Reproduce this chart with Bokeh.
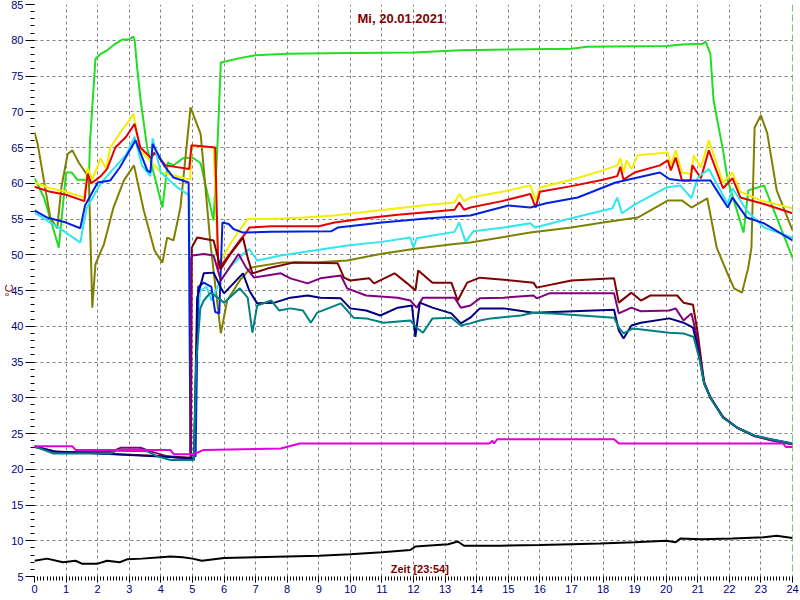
from bokeh.plotting import figure
from bokeh.models import Range1d, SingleIntervalTicker, Label, Span
from bokeh.embed import file_html
from bokeh.resources import INLINE

# ---- data (hour of day, temperature in °C) ----
green = [(0.0, 60.7), (0.3, 58.0), (0.77, 51.0), (1.0, 61.5), (1.18, 61.5), (1.35, 60.5), (1.72, 60.5),
         (1.76, 66.0), (1.93, 77.4), (2.1, 78.1), (2.3, 78.6), (2.56, 79.5), (2.78, 80.1), (2.98, 80.1),
         (3.13, 80.5), (3.17, 80.0), (3.25, 76.2), (3.36, 71.6), (3.58, 64.6), (3.8, 61.0), (4.05, 56.6),
         (4.22, 62.9), (4.4, 62.5), (4.7, 63.5), (5.0, 63.6), (5.26, 62.8), (5.67, 54.8), (5.8, 66.0),
         (5.9, 76.9), (6.5, 77.5), (7.0, 77.9), (8.0, 78.1), (10.0, 78.2), (12.0, 78.3), (13.5, 78.6),
         (15.0, 78.7), (17.0, 78.8), (17.5, 79.1), (20.0, 79.2), (20.5, 79.4), (21.15, 79.5), (21.25, 79.8),
         (21.4, 78.1), (21.5, 71.6), (21.8, 64.6), (21.95, 60.4), (22.45, 53.1), (22.6, 59.0), (23.1, 59.7),
         (23.5, 55.2), (24.0, 49.6)]

olive = [(0.0, 67.1), (0.1, 65.5), (0.5, 55.2), (0.72, 53.7), (0.85, 59.4), (1.05, 64.1), (1.2, 64.6),
         (1.4, 62.9), (1.72, 60.8), (1.83, 42.6), (1.93, 48.7), (2.2, 51.5), (2.5, 56.6), (2.83, 60.4),
         (3.15, 62.5), (3.46, 56.2), (3.8, 50.6), (4.05, 48.9), (4.2, 52.4), (4.4, 52.0), (4.62, 56.6),
         (4.94, 70.6), (5.26, 66.9), (5.57, 51.6), (5.9, 39.0), (6.1, 43.6), (6.5, 46.4), (6.85, 48.2),
         (7.8, 48.9), (8.85, 48.9), (9.9, 49.2), (10.95, 50.1), (12.0, 50.8), (13.3, 51.5), (13.8, 51.7),
         (15.7, 53.1), (17.0, 53.8), (18.0, 54.5), (19.1, 55.2), (20.06, 57.6), (20.5, 57.6), (20.8, 56.6),
         (21.3, 57.9), (21.6, 51.0), (21.9, 47.8), (22.15, 45.3), (22.4, 44.7), (22.6, 48.2), (22.7, 51.0),
         (22.8, 67.8), (23.0, 69.5), (23.2, 67.0), (23.5, 59.0), (24.0, 53.4)]

yellow = [(0.0, 60.1), (0.5, 59.3), (1.0, 58.8), (1.58, 58.0), (1.68, 62.2), (1.83, 60.5), (2.1, 63.5),
          (2.27, 62.0), (2.4, 65.0), (2.7, 67.0), (3.0, 68.8), (3.13, 69.7), (3.35, 64.5), (3.7, 63.0),
          (4.0, 61.5), (4.5, 61.0), (4.93, 60.5), (4.97, 65.2), (5.67, 65.0), (5.82, 48.5), (6.2, 51.5),
          (6.5, 53.5), (6.75, 55.0), (7.5, 55.0), (8.5, 55.2), (9.5, 55.5), (10.5, 56.0), (11.5, 56.5),
          (12.5, 57.0), (13.3, 57.3), (13.45, 58.5), (13.6, 57.5), (13.8, 58.0), (14.8, 58.8), (15.7, 59.7),
          (15.87, 57.6), (16.0, 59.4), (17.0, 60.5), (18.0, 61.8), (18.45, 62.5), (18.55, 63.5), (18.65, 61.5),
          (18.75, 63.2), (18.9, 62.0), (19.1, 63.9), (20.05, 64.3), (20.15, 62.5), (20.3, 64.6), (20.5, 61.5),
          (20.78, 61.3), (20.87, 63.9), (21.1, 62.2), (21.35, 66.0), (21.8, 60.1), (22.1, 61.5), (22.35, 58.8),
          (23.0, 57.6), (24.0, 56.5)]

red = [(0.0, 59.5), (0.5, 58.8), (1.0, 58.4), (1.58, 57.5), (1.68, 61.3), (1.8, 60.0), (2.1, 61.0),
       (2.3, 62.0), (2.56, 65.0), (2.9, 66.5), (3.17, 68.3), (3.35, 65.0), (3.7, 63.5), (3.8, 64.3),
       (4.15, 62.5), (4.9, 62.0), (4.97, 65.3), (5.72, 65.0), (5.82, 48.0), (6.2, 50.2), (6.5, 52.0),
       (6.7, 53.1), (6.8, 53.8), (7.5, 54.0), (9.0, 54.0), (9.5, 54.5), (10.5, 55.1), (11.5, 55.6),
       (12.6, 56.0), (13.3, 56.3), (13.45, 57.3), (13.6, 56.3), (13.8, 56.6), (14.8, 57.5), (15.7, 58.5),
       (15.87, 56.6), (16.0, 58.8), (17.0, 59.6), (18.0, 60.5), (18.45, 61.0), (18.55, 62.3), (18.65, 60.5),
       (19.0, 61.5), (19.8, 62.5), (20.05, 63.2), (20.15, 61.8), (20.3, 63.6), (20.5, 60.4), (20.77, 60.4),
       (20.83, 62.5), (21.1, 60.7), (21.35, 64.6), (21.8, 59.3), (22.1, 60.7), (22.35, 58.0), (23.1, 57.1),
       (24.0, 55.8)]

cyan = [(0.0, 55.9), (0.5, 54.5), (0.77, 53.8), (1.45, 51.7), (1.65, 56.5), (2.1, 60.0), (2.5, 62.0),
        (2.9, 64.0), (3.17, 66.5), (3.4, 62.5), (3.67, 61.0), (3.74, 66.3), (4.0, 61.5), (4.5, 59.5),
        (4.9, 58.3), (4.93, 22.3), (5.05, 22.0), (5.15, 40.0), (5.25, 45.0), (5.45, 45.5), (5.6, 43.6),
        (5.9, 46.5), (6.2, 48.3), (6.6, 50.1), (6.8, 50.8), (7.05, 49.2), (7.8, 49.9), (8.85, 50.6),
        (9.9, 51.3), (11.0, 51.8), (11.9, 52.4), (12.0, 51.0), (12.1, 52.3), (13.3, 53.2), (13.45, 54.5),
        (13.65, 51.8), (13.9, 53.3), (14.85, 53.8), (15.7, 54.4), (15.85, 53.8), (16.9, 55.0), (18.3, 56.5),
        (18.45, 58.0), (18.6, 55.8), (19.0, 57.0), (20.0, 59.4), (20.45, 59.7), (20.8, 57.9), (21.0, 60.8),
        (21.35, 62.0), (21.95, 57.1), (22.1, 59.3), (22.55, 56.2), (23.1, 53.8), (24.0, 52.4)]

blue = [(0.0, 56.2), (0.4, 55.2), (1.0, 54.5), (1.45, 53.7), (1.6, 56.9), (2.0, 60.1), (2.4, 60.4),
        (2.7, 62.2), (3.2, 66.0), (3.57, 61.8), (3.67, 61.5), (3.74, 65.5), (4.1, 62.5), (4.4, 60.8),
        (4.88, 60.1), (4.94, 22.0), (5.1, 21.8), (5.18, 45.5), (5.36, 46.1), (5.6, 45.5), (5.72, 42.0),
        (5.85, 41.8), (5.95, 54.5), (6.15, 54.3), (6.3, 53.6), (6.6, 53.1), (7.5, 53.2), (9.4, 53.3),
        (9.6, 53.8), (11.0, 54.5), (12.5, 55.1), (13.8, 55.5), (15.0, 56.9), (15.7, 56.6), (16.2, 57.2),
        (17.2, 58.0), (18.4, 60.1), (19.8, 61.5), (20.1, 60.6), (20.45, 60.4), (21.4, 60.4), (21.95, 56.6),
        (22.1, 58.0), (22.55, 55.2), (23.1, 54.4), (24.0, 52.0)]

maroon = [(0.0, 23.1), (0.6, 22.5), (4.3, 21.8), (4.95, 21.6), (4.98, 51.0), (5.15, 52.4), (5.67, 52.0),
          (5.9, 48.0), (6.2, 50.1), (6.6, 52.4), (6.75, 49.6), (6.9, 47.4), (7.4, 48.1), (8.2, 48.9),
          (9.6, 48.8), (9.8, 46.8), (10.0, 46.4), (10.6, 46.7), (10.75, 46.0), (11.4, 47.4), (11.8, 46.0),
          (12.06, 45.0), (12.15, 47.8), (12.6, 46.1), (13.2, 46.1), (13.4, 43.6), (13.7, 46.1), (14.1, 46.8),
          (15.1, 46.4), (15.8, 46.1), (15.9, 45.4), (17.0, 46.4), (18.35, 46.7), (18.5, 43.3), (18.9, 44.7),
          (19.2, 43.6), (19.5, 44.3), (20.35, 44.3), (20.55, 43.3), (20.85, 43.0), (21.0, 39.0), (21.2, 32.2),
          (21.4, 30.1), (21.8, 27.3), (22.25, 25.8), (22.8, 24.7), (23.3, 24.1), (24.0, 23.5)]

purple = [(0.0, 23.2), (0.72, 22.4), (2.4, 22.4), (2.72, 23.0), (3.36, 23.0), (3.67, 22.5), (4.3, 21.7),
          (4.94, 21.5), (4.96, 49.5), (5.0, 49.9), (5.36, 50.1), (5.67, 49.9), (5.9, 46.4), (6.46, 50.1),
          (6.7, 48.2), (6.95, 46.8), (7.8, 47.4), (8.1, 46.7), (8.65, 46.0), (9.05, 46.7), (9.7, 47.1),
          (9.9, 45.3), (10.5, 44.3), (11.5, 44.0), (11.9, 43.6), (12.1, 42.6), (12.3, 44.0), (13.3, 44.0),
          (13.5, 42.6), (13.8, 42.9), (14.1, 43.9), (14.85, 44.0), (15.8, 44.3), (15.9, 43.9), (16.3, 44.6),
          (18.35, 44.6), (18.5, 41.8), (18.9, 42.6), (19.2, 42.1), (20.1, 42.2), (20.3, 42.5), (20.55, 40.8),
          (20.8, 41.8), (20.95, 39.0), (21.2, 32.2), (21.4, 30.0), (21.8, 27.2), (22.25, 25.8), (22.8, 24.6),
          (23.3, 24.1), (24.0, 23.5)]

navy = [(0.0, 23.2), (0.6, 22.5), (4.3, 21.7), (5.05, 21.5), (5.15, 44.0), (5.36, 47.4), (5.67, 47.5),
        (5.9, 45.4), (6.0, 44.6), (6.3, 46.0), (6.6, 47.4), (6.8, 45.0), (7.05, 43.2), (7.6, 43.3),
        (8.1, 44.0), (8.65, 44.3), (9.05, 44.0), (9.7, 43.9), (10.0, 42.5), (10.5, 42.2), (10.95, 41.5),
        (11.5, 42.6), (11.95, 42.9), (12.06, 38.5), (12.2, 43.3), (12.6, 42.6), (13.2, 41.8), (13.5, 40.4),
        (13.8, 41.2), (14.1, 42.5), (14.85, 42.5), (15.8, 41.9), (18.35, 42.3), (18.5, 39.4), (18.65, 38.3),
        (18.9, 40.1), (19.2, 40.5), (20.1, 41.1), (20.55, 40.5), (20.85, 39.8), (21.0, 37.0), (21.2, 32.0),
        (21.4, 30.0), (21.8, 27.3), (22.25, 25.8), (22.8, 24.7), (23.3, 24.2), (24.0, 23.6)]

teal = [(0.0, 23.2), (0.6, 22.2), (2.4, 22.2), (2.6, 22.6), (3.57, 22.5), (3.89, 21.8), (4.3, 21.3),
        (5.05, 21.3), (5.12, 35.0), (5.25, 42.5), (5.36, 43.6), (5.57, 44.7), (5.8, 44.0), (6.0, 43.3),
        (6.5, 45.3), (6.75, 44.0), (6.9, 39.1), (7.05, 42.9), (7.5, 43.6), (7.75, 42.2), (8.1, 42.5),
        (8.5, 42.2), (8.75, 40.5), (8.95, 41.9), (9.7, 43.2), (10.1, 41.2), (10.5, 41.1), (11.05, 40.5),
        (11.9, 40.8), (12.1, 39.8), (12.3, 39.1), (12.6, 41.1), (13.2, 41.2), (13.5, 40.1), (13.8, 40.4),
        (14.1, 40.8), (14.45, 41.1), (15.4, 41.5), (15.8, 41.9), (16.4, 41.8), (18.35, 41.2), (18.5, 39.8),
        (18.65, 39.0), (18.95, 39.7), (20.1, 39.1), (20.55, 39.0), (20.87, 38.5), (21.05, 35.5), (21.2, 32.0),
        (21.4, 30.0), (21.8, 27.2), (22.25, 25.8), (22.8, 24.7), (23.3, 24.2), (24.0, 23.6)]

magenta = [(0.0, 23.2), (1.2, 23.2), (1.3, 22.7), (4.3, 22.7), (4.41, 22.1), (5.04, 22.1), (5.36, 22.7),
           (7.8, 22.9), (8.4, 23.6), (14.4, 23.6), (14.5, 24.0), (14.55, 23.6), (14.65, 24.2), (18.35, 24.2),
           (18.5, 23.6), (23.7, 23.6), (23.8, 23.1), (24.0, 23.1)]

black = [(0.0, 7.2), (0.4, 7.5), (0.9, 7.0), (1.3, 7.2), (1.5, 6.8), (2.0, 6.8), (2.3, 7.2), (2.7, 7.0),
         (2.93, 7.4), (3.4, 7.5), (4.0, 7.7), (4.3, 7.8), (4.7, 7.7), (5.0, 7.5), (5.3, 7.2), (6.0, 7.6),
         (7.0, 7.7), (8.0, 7.8), (9.0, 7.9), (10.0, 8.1), (11.0, 8.4), (11.9, 8.7), (12.06, 9.2), (13.1, 9.5),
         (13.4, 9.9), (13.6, 9.3), (14.75, 9.3), (16.0, 9.4), (17.0, 9.5), (17.9, 9.6), (19.0, 9.8),
         (20.0, 10.0), (20.3, 9.8), (20.45, 10.3), (21.1, 10.2), (22.1, 10.3), (23.1, 10.5), (23.5, 10.7),
         (24.0, 10.4)]

title_text = "Mi, 20.01.2021"
xlabel_text = "Zeit [23:54]"
ylabel_text = "°C"

series = [
    (green, "#22dd22"),
    (olive, "#808000"),
    (yellow, "#f4ee00"),
    (red, "#e80000"),
    (cyan, "#30e6f0"),
    (blue, "#0022e0"),
    (maroon, "#800000"),
    (purple, "#800080"),
    (navy, "#000080"),
    (teal, "#008080"),
    (magenta, "#e000e0"),
    (black, "#000000"),
]

FONT = "Liberation Sans"

p = figure(width=800, height=600, output_backend="svg", toolbar_location=None,
           x_range=Range1d(0, 24), y_range=Range1d(5, 85),
           min_border_left=0, min_border_right=8, min_border_top=4, min_border_bottom=24)
p.background_fill_color = "white"
p.border_fill_color = "white"
p.outline_line_color = None

for data, col in series:
    xs = [d[0] for d in data]
    ys = [d[1] for d in data]
    p.line(xs, ys, line_color=col, line_width=2)

# axes
p.xaxis.ticker = SingleIntervalTicker(interval=1, num_minor_ticks=10)
p.yaxis.ticker = SingleIntervalTicker(interval=5, num_minor_ticks=5)
for ax in (p.xaxis, p.yaxis):
    ax.axis_line_color = None
    ax.major_tick_line_color = "black"
    ax.minor_tick_line_color = "black"
    ax.major_tick_in = 0
    ax.minor_tick_in = 0
    ax.minor_tick_out = 4
    ax.major_label_text_color = "#000080"
    ax.major_label_text_font = FONT
    ax.major_label_text_font_size = "11px"
    ax.major_label_standoff = 2
p.xaxis.major_tick_out = 6
p.yaxis.major_tick_out = 9

p.yaxis.axis_label = ylabel_text
p.yaxis.axis_label_text_color = "#800000"
p.yaxis.axis_label_text_font = FONT
p.yaxis.axis_label_text_font_size = "11px"
p.yaxis.axis_label_text_font_style = "normal"
p.yaxis.axis_label_standoff = -7

for g in (p.xgrid, p.ygrid):
    g.grid_line_color = "#808080"
    g.grid_line_dash = "3 3"
    g.grid_line_width = 1
p.xgrid.ticker = p.xaxis.ticker
p.ygrid.ticker = p.yaxis.ticker

p.add_layout(Span(location=24, dimension="height", line_color="#008000",
                  line_dash="7 3", line_width=1))

p.add_layout(Label(x=11.6, y=83.0, text=title_text, text_color="#800000",
                   text_font=FONT, text_font_style="bold", text_font_size="13px",
                   text_align="center", text_baseline="middle"))
p.add_layout(Label(x=12.2, y=6.0, text=xlabel_text, text_color="#800000",
                   text_font=FONT, text_font_style="bold", text_font_size="11px",
                   text_align="center", text_baseline="middle"))

open("out.html", "w").write(file_html(p, INLINE))
